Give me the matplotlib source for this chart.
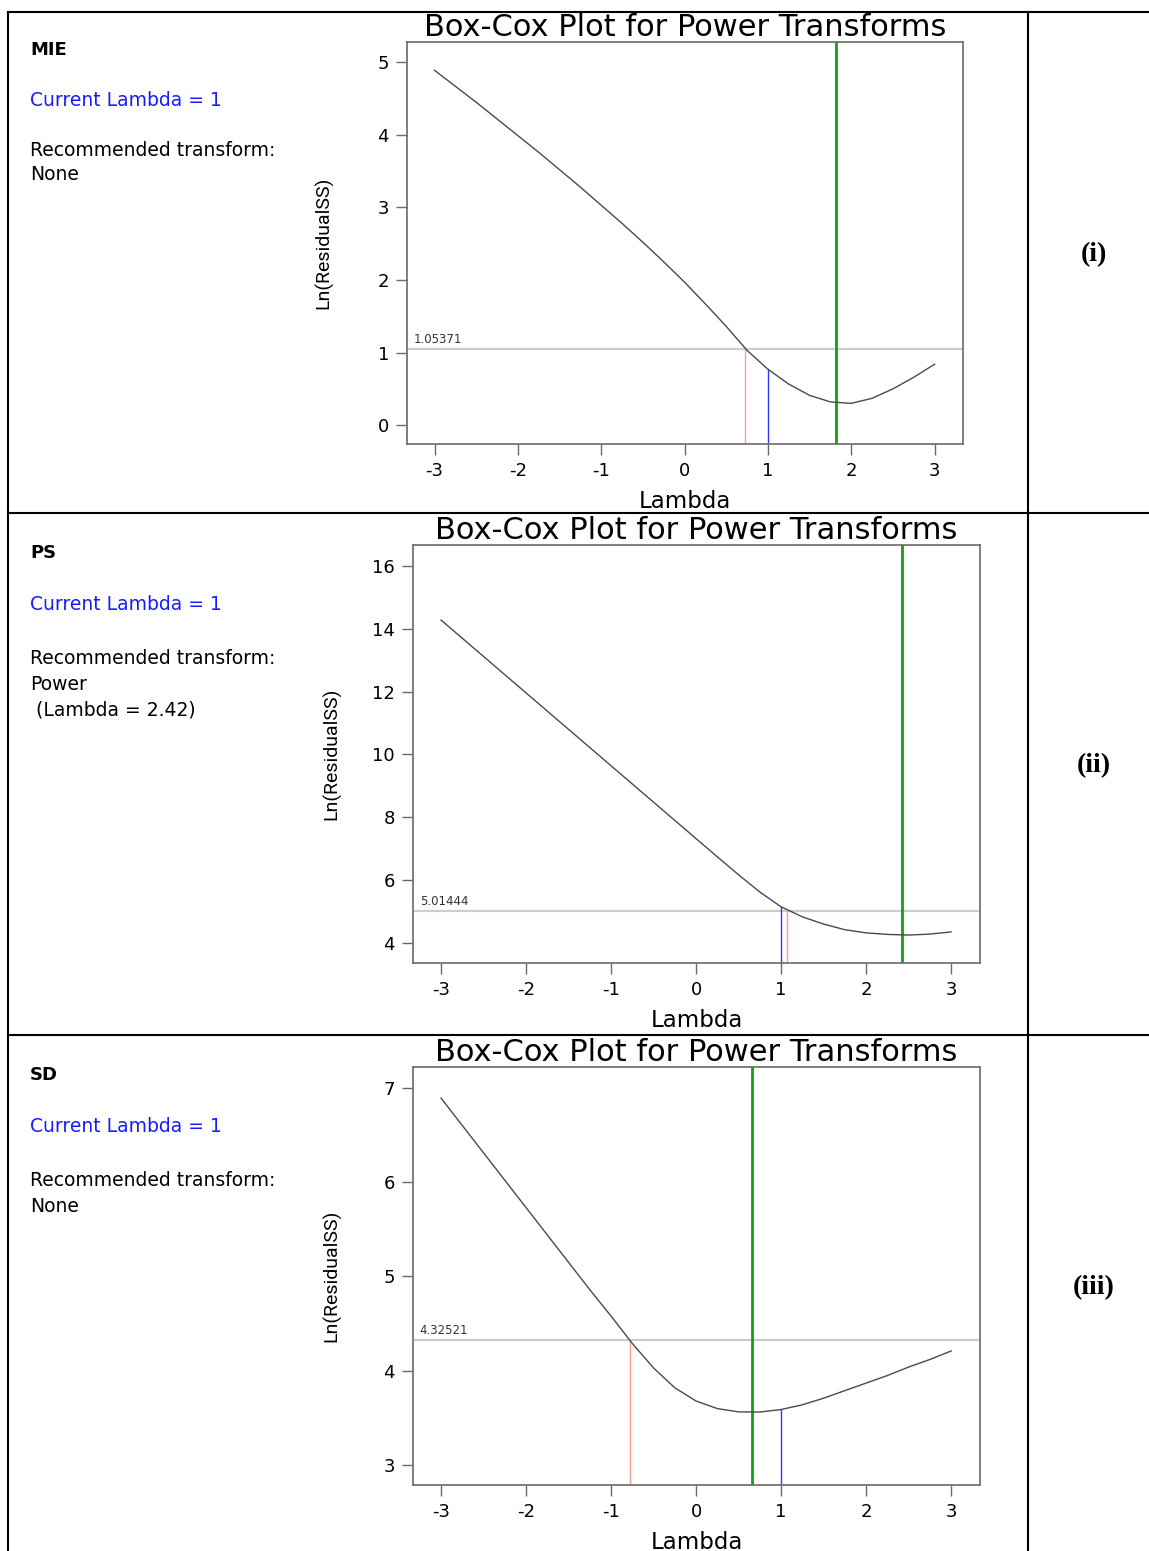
import numpy as np
import matplotlib
matplotlib.use('Agg')
import matplotlib.pyplot as plt
from matplotlib.lines import Line2D

plt.rcParams['font.family'] = ['DejaVu Sans']
plt.rcParams['axes.unicode_minus'] = False

# Lambda grid shared by the three Box-Cox curves
lam = [-3.0, -2.75, -2.5, -2.25, -2.0, -1.75, -1.5, -1.25, -1.0, -0.75, -0.5, -0.25,
       0.0, 0.25, 0.5, 0.75, 1.0, 1.25, 1.5, 1.75, 2.0, 2.25, 2.5, 2.75, 3.0]

# ln(ResidualSS)
mie_lnss = [4.89, 4.67, 4.45, 4.22, 3.99, 3.76, 3.52, 3.28, 3.03, 2.78, 2.52, 2.25,
            1.97, 1.67, 1.36, 1.03, 0.77, 0.565, 0.41, 0.32, 0.30, 0.37, 0.50, 0.66, 0.84]
ps_lnss = [14.28, 13.70, 13.12, 12.54, 11.96, 11.38, 10.80, 10.22, 9.64, 9.06, 8.48, 7.90,
           7.32, 6.74, 6.17, 5.62, 5.15, 4.83, 4.60, 4.42, 4.32, 4.27, 4.25, 4.28, 4.35]
sd_lnss = [6.89, 6.60, 6.31, 6.02, 5.73, 5.44, 5.15, 4.86, 4.58, 4.29, 4.03, 3.82,
           3.68, 3.60, 3.565, 3.563, 3.59, 3.64, 3.71, 3.79, 3.87, 3.95, 4.04, 4.12, 4.21]

names = ['MIE', 'PS', 'SD']
row_labels = ['(i)', '(ii)', '(iii)']
curves = [mie_lnss, ps_lnss, sd_lnss]
thresholds = [1.05371, 5.01444, 4.32521]
ci_lambda = [0.72, 1.07, -0.78]      # red line
best_lambda = [1.82, 2.42, 0.66]     # green line
current_lambda = 1.0                 # blue line
recommend = [['None'], ['Power', ' (Lambda = 2.42)'], ['None']]
ylims = [(-0.26, 5.28), (3.36, 16.67), (2.79, 7.22)]
yticks = [[0, 1, 2, 3, 4, 5], [4, 6, 8, 10, 12, 14, 16], [3, 4, 5, 6, 7]]
xticks = [-3, -2, -1, 0, 1, 2, 3]

W, H = 1149, 1551
fig = plt.figure(figsize=(W / 100, H / 100), dpi=100)

# axes boxes in pixels: left, top, right, bottom
boxes = [(407, 42, 963, 444), (413, 545, 980, 963), (413, 1067, 980, 1485)]
ylabel_x = [333, 341, 341]
row_tops = [12, 513, 1035]
# vertical offsets (px from row top) of the left-column lines
text_offsets = [(38, 88, 138, 163, 26), (40, 92, 145, 171, 26), (40, 92, 145, 171, 26)]

for i in range(3):
    l, t, r, b = boxes[i]
    ax = fig.add_axes([l / W, 1 - b / H, (r - l) / W, (b - t) / H])
    lnss = np.array(curves[i])
    ax.plot(lam, lnss, color='#4a4a4a', lw=1.0, zorder=3)
    ax.axhline(thresholds[i], color='#cccccc', lw=1.6, zorder=1)
    ax.annotate(f'{thresholds[i]:.5f}', xy=(0.012, thresholds[i]),
                xycoords=('axes fraction', 'data'), xytext=(0, 2),
                textcoords='offset points', fontsize=8.5, color='#333333', va='bottom')
    y0 = ylims[i][0]
    ax.plot([ci_lambda[i]] * 2, [y0, thresholds[i]], color='#ff9a9a', lw=1.0, zorder=2)
    ax.plot([current_lambda] * 2, [y0, np.interp(current_lambda, lam, lnss)],
            color='#3030ff', lw=1.0, zorder=2)
    ax.axvline(best_lambda[i], color='#11a011', lw=2.0, zorder=2)

    ax.set_xlim(-3.33, 3.34)
    ax.set_ylim(*ylims[i])
    ax.set_xticks(xticks)
    ax.set_yticks(yticks[i])
    for sp in ax.spines.values():
        sp.set_color('#6a6a6a')
        sp.set_linewidth(1.2)
    ax.tick_params(direction='out', length=8, width=1.0, color='#6a6a6a',
                   labelsize=13, pad=5)
    ax.set_xlabel('Lambda', fontsize=16.5, labelpad=7)
    ax.set_ylabel('Ln(ResidualSS)', fontsize=14,
                  family=['Roboto', 'DejaVu Sans'])
    ax.yaxis.set_label_coords((ylabel_x[i] - l) / (r - l), 0.5)
    ax.set_title('Box-Cox Plot for Power Transforms', fontsize=22, pad=3)

    # left column text
    top = row_tops[i]
    o_name, o_cur, o_rec, o_val, step = text_offsets[i]
    fig.text(30 / W, 1 - (top + o_name) / H, names[i], fontsize=13, fontweight='bold',
             va='center')
    fig.text(30 / W, 1 - (top + o_cur) / H, 'Current Lambda = 1', fontsize=13.5,
             color='#1a1aff', va='center')
    fig.text(30 / W, 1 - (top + o_rec) / H, 'Recommended transform:', fontsize=13.5,
             va='center')
    for k, line in enumerate(recommend[i]):
        fig.text(30 / W, 1 - (top + o_val + step * k) / H, line, fontsize=13.5,
                 va='center')

    # right column label
    mid = (boxes[i][1] + boxes[i][3]) / 2 + 12
    fig.text(1094 / W, 1 - mid / H, row_labels[i], fontsize=20, fontweight='bold',
             family=['Liberation Serif', 'DejaVu Serif'], ha='center', va='center')

# table rules
lw_tab = 1.5
fig.add_artist(Line2D([8 / W, 8 / W], [1 - 12 / H, 0], color='black', lw=lw_tab))
fig.add_artist(Line2D([1028 / W, 1028 / W], [1 - 12 / H, 0], color='black', lw=lw_tab))
for yy in row_tops:
    fig.add_artist(Line2D([8 / W, 1], [1 - yy / H, 1 - yy / H], color='black', lw=lw_tab))

fig.savefig('out.png', dpi=100)
